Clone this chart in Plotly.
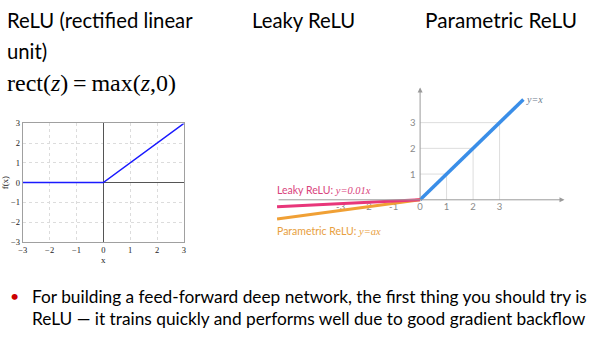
import plotly.graph_objects as go

W, H = 600, 340

# ReLU panel data
relu_x = [-3, 0, 3]
relu_y = [0, 0, 3]
relu_ticks = [-3, -2, -1, 0, 1, 2, 3]

# Leaky / parametric panel data
identity_x = [0, 3.9]
identity_y = [0, 3.9]
leaky_x = [-5.4, 0]
leaky_y = [-0.27, 0]
param_x = [-5.4, 0]
param_y = [-0.75, 0]
right_xticks = [-3, -2, -1, 0, 1, 2, 3]
right_xticklabels = ["-3", "-2", "-1", "0", "1", "2", "3"]
right_yticks = [1, 2, 3]
right_yticklabels = ["1", "2", "3"]
grid_steps = [1, 2, 3]
axis_x_span = [-5.4, 5.45]
axis_y_top = 4.37


def px(x):
    return x / W


def py(y):
    return 1 - y / H


fig = go.Figure()

# ReLU curve
fig.add_trace(go.Scatter(x=relu_x, y=relu_y, mode="lines",
                         line=dict(color="#1a1aff", width=1.5),
                         xaxis="x", yaxis="y", showlegend=False, hoverinfo="skip"))

# y = x branch
fig.add_trace(go.Scatter(x=identity_x, y=identity_y, mode="lines",
                         line=dict(color="#3a8ee8", width=3.5),
                         xaxis="x2", yaxis="y2", showlegend=False, hoverinfo="skip"))
# parametric branch
fig.add_trace(go.Scatter(x=param_x, y=param_y, mode="lines",
                         line=dict(color="#f0a035", width=3),
                         xaxis="x2", yaxis="y2", showlegend=False, hoverinfo="skip"))
# leaky branch
fig.add_trace(go.Scatter(x=leaky_x, y=leaky_y, mode="lines",
                         line=dict(color="#e8367a", width=3),
                         xaxis="x2", yaxis="y2", showlegend=False, hoverinfo="skip"))

shapes = []
# staircase guide lines on the right panel
for k in grid_steps:
    shapes.append(dict(type="line", xref="x2", yref="y2", x0=0, y0=k, x1=k, y1=k,
                       line=dict(color="#dddddd", width=1), layer="below"))
    shapes.append(dict(type="line", xref="x2", yref="y2", x0=k, y0=0, x1=k, y1=k,
                       line=dict(color="#dddddd", width=1), layer="below"))

serif = "Liberation Serif, Times New Roman, serif"
sans = "Lato, Open Sans, sans-serif"
round_sans = "Lato, Noto Sans, sans-serif"
math_span = "<span style='font-family:Liberation Serif'><i>{}</i></span>"

annotations = [
    # axis arrows on the right panel
    dict(x=axis_x_span[1], y=0, ax=axis_x_span[0], ay=0, xref="x2", yref="y2",
         axref="x2", ayref="y2", showarrow=True, arrowhead=2, arrowsize=1,
         arrowwidth=1, arrowcolor="#9a9a9a", text=""),
    dict(x=0, y=axis_y_top, ax=0, ay=0, xref="x2", yref="y2",
         axref="x2", ayref="y2", showarrow=True, arrowhead=2, arrowsize=1,
         arrowwidth=1, arrowcolor="#9a9a9a", text=""),
    # curve labels
    dict(x=px(273), y=py(191), xref="paper", yref="paper", xanchor="left", yanchor="middle",
         showarrow=False, text="Leaky ReLU: " + math_span.format("y=0.01x"),
         font=dict(family=round_sans, size=10.5, color="#d9437c")),
    dict(x=px(273), y=py(233), xref="paper", yref="paper", xanchor="left", yanchor="middle",
         showarrow=False, text="Parametric ReLU: " + math_span.format("y=ax"),
         font=dict(family=round_sans, size=10.5, color="#e8a040")),
    dict(x=px(525), y=py(97), xref="paper", yref="paper", xanchor="left", yanchor="middle",
         showarrow=False, text="<i>y=x</i>",
         font=dict(family=serif, size=10, color="#6d7d8e")),
    # slide headings
    dict(x=px(0), y=py(15), xref="paper", yref="paper", xanchor="left", yanchor="middle",
         showarrow=False, text="ReLU (rectified linear",
         font=dict(family=sans, size=20.3, color="#000000")),
    dict(x=px(0), y=py(47), xref="paper", yref="paper", xanchor="left", yanchor="middle",
         showarrow=False, text="unit)",
         font=dict(family=sans, size=20.3, color="#000000")),
    dict(x=px(0), y=py(80), xref="paper", yref="paper", xanchor="left", yanchor="middle",
         showarrow=False, text="rect(<i>z</i>)\u2009=\u2009max(<i>z</i>,0)",
         font=dict(family=serif, size=24, color="#000000")),
    dict(x=px(248), y=py(15), xref="paper", yref="paper", xanchor="left", yanchor="middle",
         showarrow=False, text="Leaky ReLU",
         font=dict(family=sans, size=20.3, color="#000000")),
    dict(x=px(423), y=py(15), xref="paper", yref="paper", xanchor="left", yanchor="middle",
         showarrow=False, text="Parametric ReLU",
         font=dict(family=sans, size=20.8, color="#000000")),
    # bullet text
    dict(x=px(3), y=py(299), xref="paper", yref="paper", xanchor="left", yanchor="middle",
         showarrow=False, text="•", font=dict(family=sans, size=16, color="#cc0000")),
    dict(x=px(25), y=py(300), xref="paper", yref="paper", xanchor="left", yanchor="middle",
         showarrow=False,
         text="For building a feed-forward deep network, the first thing you should try is",
         font=dict(family=sans, size=17.3, color="#000000")),
    dict(x=px(25), y=py(323), xref="paper", yref="paper", xanchor="left", yanchor="middle",
         showarrow=False,
         text="ReLU \u2014 it trains quickly and performs well due to good gradient backflow",
         font=dict(family=sans, size=17.3, color="#000000")),
]

# y tick labels of the right panel, set just left of its vertical axis
for val, lab in zip(right_yticks, right_yticklabels):
    annotations.append(dict(x=-0.26, y=val, xref="x2", yref="y2", xanchor="center",
                            yanchor="middle", showarrow=False, text=lab,
                            font=dict(family=round_sans, size=9.5, color="#8a8a8a")))

fig.update_layout(
    width=W, height=H,
    margin=dict(l=0, r=0, t=0, b=0),
    paper_bgcolor="white", plot_bgcolor="rgba(0,0,0,0)",
    shapes=shapes, annotations=annotations,
    xaxis=dict(domain=[px(18), px(181)], range=[-3, 3], tickvals=relu_ticks,
               showgrid=True, gridcolor="#dcdcdc", griddash="3px,3px", gridwidth=1,
               zeroline=True, zerolinecolor="#555555", zerolinewidth=1,
               showline=True, linecolor="#a0a0a0", mirror=True, ticks="",
               tickfont=dict(family=serif, size=8.5, color="#222222"),
               title=dict(text="x", font=dict(family=serif, size=9, color="#222222"), standoff=2),
               anchor="y", fixedrange=True),
    yaxis=dict(domain=[1 - 244 / H, 1 - 122 / H], range=[-3, 3], tickvals=relu_ticks,
               showgrid=True, gridcolor="#dcdcdc", griddash="3px,3px", gridwidth=1,
               zeroline=True, zerolinecolor="#555555", zerolinewidth=1,
               showline=True, linecolor="#a0a0a0", mirror=True, ticks="",
               tickfont=dict(family=serif, size=8.5, color="#222222"),
               title=dict(text="f(x)", font=dict(family=serif, size=9, color="#222222"), standoff=0),
               anchor="x", fixedrange=True),
    xaxis2=dict(domain=[px(275), px(565)], range=[-5.41, 5.41],
                tickvals=right_xticks, ticktext=right_xticklabels,
                showgrid=False, zeroline=False, showline=False, ticks="",
                anchor="free", position=1 - 200.7 / H, layer="below traces",
                tickfont=dict(family=round_sans, size=9.5, color="#8a8a8a"),
                fixedrange=True),
    yaxis2=dict(domain=[1 - 240 / H, 1 - 80 / H], range=[(200.7 - 240) / 26.5, (200.7 - 80) / 26.5],
                showticklabels=False,
                showgrid=False, zeroline=False, showline=False, ticks="",
                anchor="free", position=420 / W,
                fixedrange=True),
)

fig.write_html("out.html", config={"displayModeBar": False})
